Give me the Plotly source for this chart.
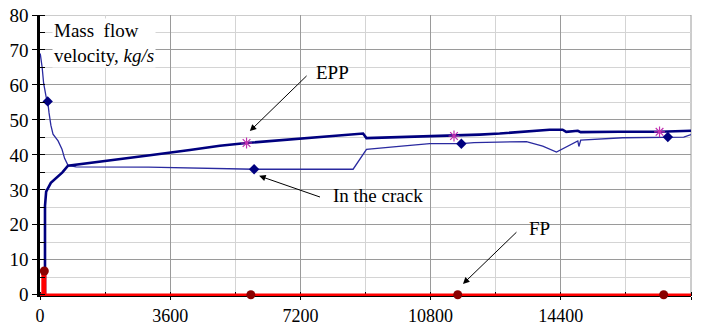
import plotly.graph_objects as go

# ---- data ----
epp_x = [0, 138, 138, 170, 300, 450, 620, 774, 1658, 3039, 4144, 4974, 5711, 7200, 8500, 8933,
         9026, 10000, 11447, 12157, 12710, 14090, 14450, 14550, 14870, 14950, 16000, 17130, 18000]
epp_y = [0, 0, 25.4, 29.5, 32.0, 33.5, 35.0, 36.9, 38.0, 39.9, 41.4, 42.6, 43.4, 44.7, 45.8, 46.1,
         44.8, 45.1, 45.4, 45.8, 46.1, 47.2, 47.2, 46.6, 46.9, 46.5, 46.6, 46.6, 46.9]

crack_x = [0, 10, 60, 100, 170, 213, 250, 300, 360, 500, 608, 680, 774, 1000, 3000, 5000, 5920,
           8657, 9027, 10000, 10776, 11650, 12000, 13450, 13900, 14280, 14870, 14900, 14950,
           16110, 17360, 17800, 18000]
crack_y = [69, 68.7, 65, 60.5, 56.5, 55.3, 52, 48.5, 45.9, 44.0, 41.6, 39.0, 37.0, 36.6, 36.5, 36.1, 35.9,
           35.9, 41.6, 42.5, 43.2, 43.2, 43.5, 43.8, 42.5, 40.8, 44.0, 42.4, 44.2,
           44.9, 45.1, 45.1, 45.8]

fp_x = [0, 75, 75, 138, 138, 18000]
fp_y = [0, 0, 6.8, 6.8, 0, 0]

epp_mx = [5711, 11447, 17130]
epp_my = [43.4, 45.4, 46.6]
crack_mx = [213, 5920, 11650, 17360]
crack_my = [55.3, 35.9, 43.2, 45.1]
fp_mx = [119, 5830, 11550, 17245]
fp_my = [6.8, 0, 0, 0]

x_ticks = [0, 3600, 7200, 10800, 14400, 18000]
y_ticks = [0, 10, 20, 30, 40, 50, 60, 70, 80]

FONT = "Liberation Serif"
MAJ_GRID = "#9a9a9a"
MIN_GRID = "#d4d4d4"

fig = go.Figure()
fig.add_trace(go.Scatter(x=crack_x, y=crack_y, mode="lines",
                         line=dict(color="#2a2aa0", width=1.3), showlegend=False))
fig.add_trace(go.Scatter(x=epp_x, y=epp_y, mode="lines",
                         line=dict(color="#00007f", width=2.6), showlegend=False))
fig.add_trace(go.Scatter(x=fp_x, y=fp_y, mode="lines",
                         line=dict(color="#ff0000", width=2.8), showlegend=False))
fig.add_trace(go.Scatter(x=crack_mx, y=crack_my, mode="markers", cliponaxis=False,
                         marker=dict(symbol="diamond", size=8, color="#00007f"), showlegend=False))
fig.add_trace(go.Scatter(x=epp_mx, y=epp_my, mode="markers", cliponaxis=False,
                         marker=dict(symbol="asterisk-open", size=9, color="#c030b0",
                                     line=dict(color="#c030b0", width=1.2)), showlegend=False))
fig.add_trace(go.Scatter(x=fp_mx, y=fp_my, mode="markers", cliponaxis=False,
                         marker=dict(symbol="circle", size=9, color="#8b0000"), showlegend=False))

ann = []
arrows = [
    (5802, 46.8, 7413, 63.0),
    (6059, 34.0, 7783, 27.8),
    (11695, 3.1, 13215, 18.3),
]
for hx, hy, tx, ty in arrows:
    ann.append(dict(x=hx, y=hy, ax=tx, ay=ty, xref="x", yref="y", axref="x", ayref="y",
                    text="", showarrow=True, arrowhead=2, arrowsize=1.3, arrowwidth=1,
                    arrowcolor="black"))
labels = [("EPP", 8095, 63.6), ("In the crack", 9347, 28.3), ("FP", 13812, 19.0)]
for t, x, y in labels:
    ann.append(dict(x=x, y=y, xref="x", yref="y", text=t, showarrow=False,
                    font=dict(family=FONT, size=19, color="black")))
ann.append(dict(x=330, y=79.2, xref="x", yref="y", xanchor="left", yanchor="top",
                align="left", showarrow=False, bgcolor="white",
                text="Mass  flow<br>velocity, <i>kg/s</i>",
                font=dict(family=FONT, size=19, color="black")))

fig.update_layout(
    width=712, height=329,
    margin=dict(l=40, r=21, t=15, b=33),
    paper_bgcolor="white", plot_bgcolor="white",
    font=dict(family=FONT, size=18, color="black"),
    annotations=ann,
    xaxis=dict(range=[0, 18000], tickvals=x_ticks, ticktext=[str(v) for v in x_ticks],
               automargin=False,
               showgrid=True, gridcolor=MAJ_GRID, gridwidth=1,
               zeroline=False, showline=True, linecolor="black", linewidth=1,
               ticks="outside", ticklen=3, tickcolor="black", layer="below traces",
               tickfont=dict(family=FONT, size=18),
               minor=dict(dtick=1800, tick0=0, showgrid=True, gridcolor=MIN_GRID, gridwidth=1,
                          ticks="inside", ticklen=4, tickcolor="black")),
    yaxis=dict(range=[-0.35, 80], tickvals=y_ticks, ticktext=[str(v) for v in y_ticks],
               automargin=False,
               showgrid=True, gridcolor=MAJ_GRID, gridwidth=1,
               zeroline=False, showline=True, linecolor="black", linewidth=2.5,
               ticks="outside", ticklen=5, tickcolor="black",
               tickfont=dict(family=FONT, size=19),
               minor=dict(dtick=5, tick0=0, showgrid=True, gridcolor=MIN_GRID, gridwidth=1,
                          ticks="inside", ticklen=5, tickcolor="black")),
)
fig.add_shape(type="line", xref="paper", yref="paper", x0=1, x1=1, y0=0, y1=1,
              line=dict(color=MAJ_GRID, width=1), layer="below")
fig.add_shape(type="line", xref="paper", yref="y", x0=0, x1=1, y0=80, y1=80,
              line=dict(color=MAJ_GRID, width=1), layer="below")

fig.write_html("out.html")
